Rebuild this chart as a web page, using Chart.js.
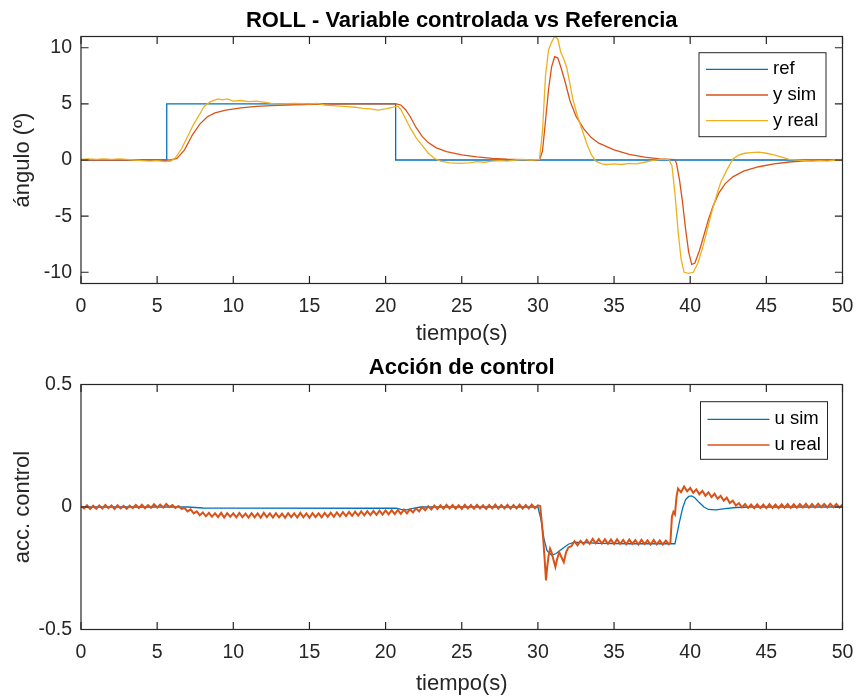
<!DOCTYPE html>
<html>
<head>
<meta charset="utf-8">
<script src="https://cdn.jsdelivr.net/npm/chart.js@4.4.0/dist/chart.umd.min.js"></script>
<style>
  html, body { margin: 0; background: #fff; }
  #wrap { position: relative; width: 856px; height: 697px; }
  canvas { position: absolute; left: 0; }
</style>
</head>
<body>
<div id="wrap">
  <canvas id="roll" width="856" height="348" style="top:0"></canvas>
  <canvas id="accion" width="856" height="349" style="top:348px"></canvas>
</div>
<script>
const xTicks = [0, 5, 10, 15, 20, 25, 30, 35, 40, 45, 50];
const rollTicks = [-10, -5, 0, 5, 10];
const accTicks = [-0.5, 0, 0.5];

// referencia (escalon)
const refT = [0, 5.63, 5.63, 20.66, 20.66, 50];
const refV = [0, 0, 5, 5, 0, 0];

// y sim
const ySimT = [0, 5.9, 6.3, 6.8, 7.3, 7.8, 8.3, 8.8, 9.5, 10.5, 11.5, 12.5, 14, 16, 18, 20.7,
  21.0, 21.3, 21.6, 22.0, 22.4, 22.8, 23.3, 24, 25, 26, 27, 28, 29, 30.1,
  30.3, 30.5, 30.7, 30.9, 31.1, 31.3, 31.5, 31.8, 32.1, 32.5, 33, 33.5, 34, 35, 36, 37, 38, 39,
  39.1, 39.3, 39.5, 39.7, 39.9, 40.1, 40.3, 40.6, 40.9, 41.2, 41.5, 41.9, 42.3, 42.8, 43.5,
  44.5, 45.5, 46.5, 47.5, 48.5, 50];
const ySimV = [0, 0, 0.15, 0.9, 2.2, 3.2, 3.85, 4.2, 4.45, 4.65, 4.77, 4.85, 4.92, 4.97, 5.0, 5.0,
  4.9, 4.5, 3.9, 2.9, 2.1, 1.55, 1.1, 0.75, 0.45, 0.27, 0.15, 0.07, 0.03, 0.0,
  0.8, 3.5, 6.3, 8.3, 9.2, 9.1, 8.3, 6.9, 5.3, 3.9, 2.8, 2.0, 1.5, 0.9, 0.5, 0.25, 0.1, 0.03,
  -0.3, -1.8, -3.8, -6.2, -8.2, -9.3, -9.2, -8.1, -6.7, -5.3, -4.1, -2.9, -2.1, -1.5, -1.0,
  -0.6, -0.35, -0.18, -0.08, -0.03, 0];

// y real
const yRealT = [0, 0.5, 1, 1.5, 2, 2.5, 3, 3.5, 4, 4.5, 5, 5.5, 5.9, 6.2, 6.6, 7.0, 7.4, 7.8, 8.1,
  8.5, 9.0, 9.3, 9.6, 10, 10.5, 11, 11.5, 12, 12.5, 13, 14, 15, 15.5, 16, 16.5, 17, 17.5, 18,
  18.5, 19, 19.5, 20, 20.5, 20.8, 21.0, 21.3, 21.6, 22.0, 22.4, 22.8, 23.2, 23.6, 24.2, 24.8,
  25.5, 26, 26.5, 27, 27.5, 28, 28.5, 29, 29.5, 30.1, 30.3, 30.5, 30.7, 30.9, 31.1, 31.3, 31.5,
  31.7, 31.9, 32.1, 32.3, 32.6, 32.9, 33.2, 33.5, 33.8, 34.2, 34.5, 35, 35.5, 36, 36.5, 37,
  37.5, 38, 38.6, 38.8, 39.0, 39.2, 39.4, 39.6, 39.9, 40.2, 40.5, 40.8, 41.1, 41.4, 41.7, 42.0,
  42.4, 42.8, 43.2, 43.6, 44, 44.5, 45, 45.5, 46, 46.5, 47, 47.5, 48, 48.5, 49, 49.5, 50];
const yRealV = [0.05, 0.1, 0.05, 0.1, 0.05, 0.1, 0.05, 0.0, -0.05, -0.1, -0.05, -0.15, -0.1, 0.2,
  1.0, 2.1, 3.2, 4.1, 4.8, 5.2, 5.45, 5.35, 5.45, 5.25, 5.3, 5.2, 5.25, 5.15, 5.05, 5.0, 5.05,
  5.0, 5.05, 4.9, 4.85, 4.8, 4.75, 4.7, 4.6, 4.55, 4.45, 4.55, 4.7, 4.8, 4.5, 3.7, 2.9, 2.0,
  1.3, 0.6, 0.15, -0.1, -0.25, -0.3, -0.25, -0.15, -0.2, -0.1, -0.05, -0.1, 0.0, 0.05, 0.0,
  0.05, 2.5, 7.5, 9.8, 10.5, 11.0, 10.8, 9.6, 9.0, 8.2, 6.8, 5.4, 3.9, 2.7, 1.5, 0.5, -0.1,
  -0.35, -0.4, -0.35, -0.4, -0.3, -0.35, -0.2, -0.05, 0.05, 0.05, -0.5, -3.0, -6.3, -8.8,
  -10.0, -10.1, -10.0, -9.2, -7.9, -6.3, -4.7, -3.3, -2.0, -0.9, 0.1, 0.45, 0.6, 0.65, 0.7,
  0.6, 0.45, 0.25, 0.05, 0.0, -0.05, -0.1, -0.05, -0.1, 0.0, 0.05];

// u sim
const uSimT = [0, 7, 8, 10, 20, 20.7, 21.0, 21.4, 21.8, 22.3, 30.0, 30.2, 30.4, 30.6, 30.9,
  31.2, 31.6, 32.0, 32.4, 33, 34, 36, 38, 39.0, 39.1, 39.3, 39.5, 39.7, 39.9, 40.1, 40.3,
  40.6, 40.9, 41.2, 41.7, 42.3, 43, 44, 50];
const uSimV = [0, 0, -0.004, -0.005, -0.005, -0.005, -0.01, -0.012, -0.006, 0, 0, -0.05, -0.13,
  -0.178, -0.197, -0.19, -0.17, -0.152, -0.143, -0.145, -0.148, -0.15, -0.15, -0.15, -0.12,
  -0.06, -0.005, 0.03, 0.043, 0.045, 0.038, 0.018, 0.0, -0.01, -0.012, -0.007, -0.002, 0, 0];

// u real, pares [t, u] (señal con ruido)
const uReal = [
  [0.0, 0.004], [0.2, -0.006], [0.4, 0.007], [0.6, -0.008], [0.8, 0.005], [1.0, -0.007],
  [1.2, 0.006], [1.4, -0.006], [1.6, 0.008], [1.8, -0.005], [2.0, 0.006], [2.2, -0.008],
  [2.4, 0.007], [2.6, -0.006], [2.8, 0.005], [3.0, -0.007], [3.2, 0.006], [3.4, -0.005],
  [3.6, 0.008], [3.8, -0.004], [4.0, 0.009], [4.2, -0.005], [4.4, 0.008], [4.6, -0.003],
  [4.8, 0.011], [5.0, -0.002], [5.2, 0.01], [5.4, -0.002], [5.6, 0.012], [5.8, 0.0],
  [6.0, 0.008], [6.2, -0.004], [6.4, 0.004], [6.6, -0.008], [6.8, -0.004], [7.0, -0.018],
  [7.2, -0.01], [7.4, -0.026], [7.6, -0.018], [7.8, -0.034], [8.0, -0.022], [8.2, -0.038],
  [8.4, -0.024], [8.6, -0.04], [8.8, -0.026], [9.0, -0.041], [9.2, -0.024], [9.4, -0.043],
  [9.6, -0.025], [9.8, -0.04], [10.0, -0.026], [10.2, -0.042], [10.4, -0.024], [10.6, -0.041],
  [10.8, -0.027], [11.0, -0.043], [11.2, -0.025], [11.4, -0.042], [11.6, -0.026], [11.8, -0.044],
  [12.0, -0.024], [12.2, -0.041], [12.4, -0.026], [12.6, -0.043], [12.8, -0.025], [13.0, -0.042],
  [13.2, -0.027], [13.4, -0.044], [13.6, -0.025], [13.8, -0.041], [14.0, -0.026], [14.2, -0.043],
  [14.4, -0.024], [14.6, -0.042], [14.8, -0.026], [15.0, -0.044], [15.2, -0.025], [15.4, -0.041],
  [15.6, -0.026], [15.8, -0.042], [16.0, -0.024], [16.2, -0.04], [16.4, -0.023], [16.6, -0.04],
  [16.8, -0.022], [17.0, -0.038], [17.2, -0.021], [17.4, -0.037], [17.6, -0.02], [17.8, -0.036],
  [18.0, -0.019], [18.2, -0.035], [18.4, -0.018], [18.6, -0.034], [18.8, -0.017], [19.0, -0.033],
  [19.2, -0.016], [19.4, -0.032], [19.6, -0.015], [19.8, -0.031], [20.0, -0.014], [20.2, -0.03],
  [20.4, -0.013], [20.6, -0.029], [20.8, -0.012], [21.0, -0.028], [21.2, -0.011], [21.4, -0.026],
  [21.6, -0.009], [21.8, -0.022], [22.0, -0.005], [22.2, -0.018], [22.4, 0.0], [22.6, -0.013],
  [22.8, 0.003], [23.0, -0.01], [23.2, 0.006], [23.4, -0.008], [23.6, 0.007], [23.8, -0.007],
  [24.0, 0.009], [24.2, -0.006], [24.4, 0.008], [24.6, -0.007], [24.8, 0.007], [25.0, -0.008],
  [25.2, 0.009], [25.4, -0.006], [25.6, 0.008], [25.8, -0.007], [26.0, 0.009], [26.2, -0.006],
  [26.4, 0.007], [26.6, -0.008], [26.8, 0.008], [27.0, -0.006], [27.2, 0.01], [27.4, -0.007],
  [27.6, 0.008], [27.8, -0.006], [28.0, 0.009], [28.2, -0.007], [28.4, 0.008], [28.6, -0.006],
  [28.8, 0.01], [29.0, -0.007], [29.2, 0.008], [29.4, -0.006], [29.6, 0.01], [29.8, -0.005],
  [30.0, 0.007], [30.15, 0.004], [30.25, -0.06], [30.35, -0.13], [30.45, -0.22], [30.53, -0.3],
  [30.62, -0.24], [30.7, -0.2], [30.8, -0.17], [30.9, -0.185], [31.0, -0.21], [31.15, -0.245],
  [31.25, -0.215], [31.4, -0.185], [31.55, -0.205], [31.7, -0.225], [31.85, -0.185], [32.0, -0.165],
  [32.2, -0.16], [32.4, -0.14], [32.6, -0.156], [32.8, -0.138], [33.0, -0.152], [33.2, -0.134],
  [33.4, -0.15], [33.6, -0.13], [33.8, -0.148], [34.0, -0.131], [34.2, -0.149], [34.4, -0.132],
  [34.6, -0.15], [34.8, -0.133], [35.0, -0.151], [35.2, -0.132], [35.4, -0.15], [35.6, -0.134],
  [35.8, -0.152], [36.0, -0.133], [36.2, -0.15], [36.4, -0.135], [36.6, -0.153], [36.8, -0.134],
  [37.0, -0.151], [37.2, -0.136], [37.4, -0.153], [37.6, -0.135], [37.8, -0.152], [38.0, -0.136],
  [38.2, -0.153], [38.4, -0.137], [38.6, -0.152], [38.7, -0.145], [38.8, -0.04], [38.9, -0.02],
  [39.0, -0.03], [39.1, 0.04], [39.2, 0.075], [39.4, 0.06], [39.6, 0.084], [39.8, 0.064],
  [40.0, 0.078], [40.2, 0.058], [40.4, 0.072], [40.6, 0.052], [40.8, 0.066], [41.0, 0.046],
  [41.2, 0.06], [41.4, 0.04], [41.6, 0.054], [41.8, 0.034], [42.0, 0.046], [42.2, 0.026],
  [42.4, 0.038], [42.6, 0.016], [42.8, 0.026], [43.0, 0.006], [43.2, 0.016], [43.4, -0.002],
  [43.6, 0.012], [43.8, -0.004], [44.0, 0.01], [44.2, -0.005], [44.4, 0.011], [44.6, -0.004],
  [44.8, 0.01], [45.0, -0.005], [45.2, 0.012], [45.4, -0.004], [45.6, 0.01], [45.8, -0.005],
  [46.0, 0.011], [46.2, -0.003], [46.4, 0.012], [46.6, -0.004], [46.8, 0.011], [47.0, -0.003],
  [47.2, 0.012], [47.4, -0.002], [47.6, 0.013], [47.8, -0.003], [48.0, 0.012], [48.2, -0.002],
  [48.4, 0.013], [48.6, -0.001], [48.8, 0.012], [49.0, -0.002], [49.2, 0.013], [49.4, -0.001],
  [49.6, 0.012], [49.8, -0.002], [50.0, 0.01]
];

const azul = '#0072BD';
const naranja = '#D95319';
const amarillo = '#EDB120';
const ink = '#262626';
const fontFam = '"Liberation Sans", Arial, Helvetica, sans-serif';

Chart.defaults.font.family = fontFam;
Chart.defaults.color = ink;

const pts = (ts, vs) => ts.map((t, i) => ({ x: t, y: vs[i] }));

// ejes tipo matlab: caja y ticks hacia dentro
const matlabBox = {
  id: 'matlabBox',
  afterDatasetsDraw(chart) {
    const { ctx, chartArea: a, scales: { x, y } } = chart;
    const len = 7.6;
    ctx.save();
    ctx.strokeStyle = ink;
    ctx.lineWidth = 1.2;
    ctx.beginPath();
    x.ticks.forEach(t => {
      const px = x.getPixelForValue(t.value);
      ctx.moveTo(px, a.bottom); ctx.lineTo(px, a.bottom - len);
      ctx.moveTo(px, a.top); ctx.lineTo(px, a.top + len);
    });
    y.ticks.forEach(t => {
      const py = y.getPixelForValue(t.value);
      ctx.moveTo(a.left, py); ctx.lineTo(a.left + len, py);
      ctx.moveTo(a.right, py); ctx.lineTo(a.right - len, py);
    });
    ctx.stroke();
    ctx.strokeRect(a.left, a.top, a.right - a.left, a.bottom - a.top);
    ctx.restore();
  }
};

const boxLegend = {
  id: 'boxLegend',
  afterDraw(chart, args, o) {
    const { ctx, chartArea: a } = chart;
    const left = a.right - o.right - o.width;
    const top = a.top + o.top;
    ctx.save();
    ctx.fillStyle = '#fff';
    ctx.fillRect(left, top, o.width, o.height);
    ctx.strokeStyle = ink;
    ctx.lineWidth = 1;
    ctx.strokeRect(left, top, o.width, o.height);
    ctx.font = o.fontSize + 'px ' + fontFam;
    ctx.textBaseline = 'middle';
    ctx.textAlign = 'left';
    chart.data.datasets.forEach((ds, i) => {
      const yy = top + o.rowTop + i * o.rowGap;
      ctx.strokeStyle = ds.borderColor;
      ctx.lineWidth = 1.3;
      ctx.beginPath();
      ctx.moveTo(left + 7, yy);
      ctx.lineTo(left + 69, yy);
      ctx.stroke();
      ctx.fillStyle = '#000';
      ctx.fillText(ds.label, left + 74, yy);
    });
    ctx.restore();
  }
};

const lineDs = (label, data, color, order) => ({
  label, data, borderColor: color, backgroundColor: color,
  borderWidth: 1.3, pointRadius: 0, tension: 0, order
});

function makeOptions(cfg) {
  return {
    responsive: false,
    animation: false,
    events: [],
    layout: { padding: { left: 0, right: 13.5, top: 0, bottom: 0 } },
    plugins: {
      legend: { display: false },
      tooltip: { enabled: false },
      title: {
        display: true,
        fullSize: false,
        text: cfg.title,
        color: '#000',
        font: { size: 22, weight: 'bold', lineHeight: 1.2 },
        padding: cfg.titlePad
      },
      boxLegend: cfg.legend
    },
    scales: {
      x: {
        type: 'linear',
        min: 0, max: 50,
        grid: { display: false, drawTicks: false },
        border: { display: false },
        afterBuildTicks: s => { s.ticks = xTicks.map(v => ({ value: v })); },
        afterFit: s => { s.height = cfg.xHeight; s.paddingLeft = 0; s.paddingRight = 0; },
        ticks: { font: { size: 19.5, lineHeight: 1.2 }, padding: 11.5, maxRotation: 0, color: ink, callback: v => String(v) },
        title: { display: true, text: 'tiempo(s)', color: ink, font: { size: 22, lineHeight: 1.2 }, padding: { top: 0, bottom: cfg.xTitlePad } }
      },
      y: {
        min: cfg.yMin, max: cfg.yMax,
        grid: { display: false, drawTicks: false },
        border: { display: false },
        afterBuildTicks: s => { s.ticks = cfg.yTicks.map(v => ({ value: v })); },
        afterFit: s => { s.width = 81; s.paddingTop = 0; s.paddingBottom = 0; },
        ticks: { font: { size: 19.5, lineHeight: 1.2 }, padding: 9, color: ink, callback: v => String(v) },
        title: { display: true, text: cfg.yTitle, color: ink, font: { size: 22, lineHeight: 1.2 }, padding: { top: 10, bottom: 0 } }
      }
    }
  };
}

new Chart(document.getElementById('roll'), {
  type: 'line',
  data: {
    datasets: [
      lineDs('ref', pts(refT, refV), azul, 2),
      lineDs('y sim', pts(ySimT, ySimV), naranja, 1),
      lineDs('y real', pts(yRealT, yRealV), amarillo, 0)
    ]
  },
  options: makeOptions({
    title: 'ROLL - Variable controlada vs Referencia',
    titlePad: { top: 7.5, bottom: 2.6 },
    xHeight: 64.5,
    xTitlePad: 0.8,
    yMin: -11, yMax: 11,
    yTicks: rollTicks,
    yTitle: 'ángulo (º)',
    legend: { right: 16.5, top: 16.2, width: 127, height: 84, rowTop: 16.6, rowGap: 25.7, fontSize: 18.5 }
  }),
  plugins: [matlabBox, boxLegend]
});

new Chart(document.getElementById('accion'), {
  type: 'line',
  data: {
    datasets: [
      lineDs('u sim', pts(uSimT, uSimV), azul, 1),
      Object.assign(lineDs('u real', uReal.map(([t, u]) => ({ x: t, y: u })), naranja, 0), { borderWidth: 2 })
    ]
  },
  options: makeOptions({
    title: 'Acción de control',
    titlePad: { top: 6.8, bottom: 3.3 },
    xHeight: 67.5,
    xTitlePad: 0,
    yMin: -0.5, yMax: 0.5,
    yTicks: accTicks,
    yTitle: 'acc. control',
    legend: { right: 15, top: 17.2, width: 127, height: 57.6, rowTop: 17.6, rowGap: 25.7, fontSize: 18.5 }
  }),
  plugins: [matlabBox, boxLegend]
});
</script>
</body>
</html>
